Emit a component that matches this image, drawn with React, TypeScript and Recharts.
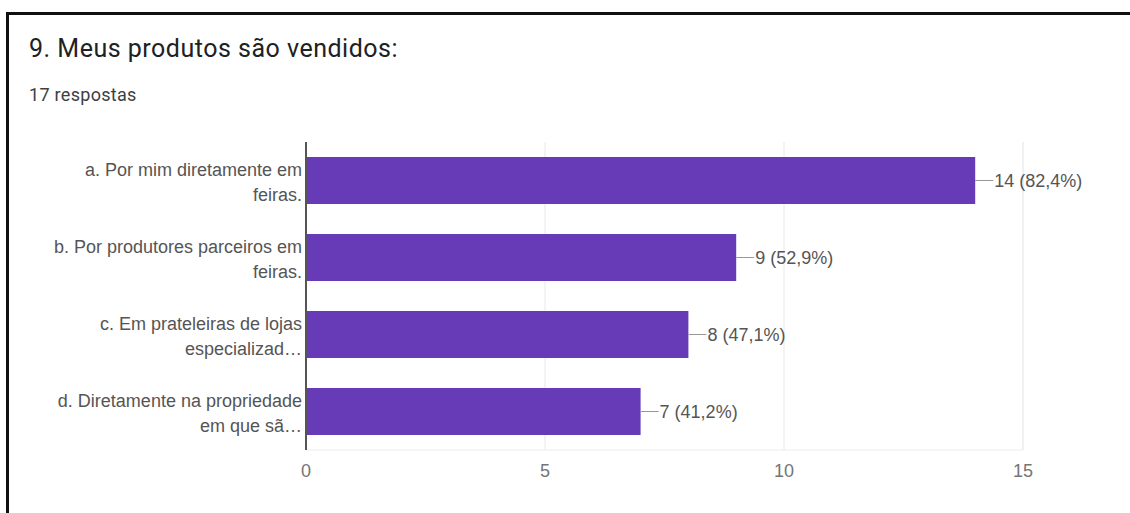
import React from "react";
import {
  BarChart,
  Bar,
  XAxis,
  YAxis,
  CartesianGrid,
  LabelList,
} from "recharts";

// answers (line breaks as shown in the chart)
const categories = [
  "a. Por mim diretamente em\nfeiras.",
  "b. Por produtores parceiros em\nfeiras.",
  "c. Em prateleiras de lojas\nespecializad…",
  "d. Diretamente na propriedade\nem que sã…",
];
const counts = [14, 9, 8, 7];
const percents = ["82,4%", "52,9%", "47,1%", "41,2%"];
const xTicks = [0, 5, 10, 15];
const xMinorTicks = [2.5, 7.5, 12.5];

const title = "9. Meus produtos são vendidos:";
const subtitle = "17 respostas";

const chartFont = '"Liberation Sans", Arial, sans-serif';
const purple = "#673ab7";

const data = categories.map((name, i) => ({
  name,
  value: counts[i],
  label: `${counts[i]} (${percents[i]})`,
}));

function CategoryTick(props: any) {
  const { x, y, payload } = props;
  const lines = String(payload.value).split("\n");
  return (
    <text
      x={x}
      y={y}
      textAnchor="end"
      fill="#555"
      fontSize={18}
      fontFamily={chartFont}
    >
      {lines.map((line, i) => (
        <tspan key={i} x={x} y={y - 5 + i * 25}>
          {line}
        </tspan>
      ))}
    </text>
  );
}

function ValueLabel(props: any) {
  const { x, y, width, height, value } = props;
  const endX = x + width;
  const cy = y + height / 2;
  return (
    <g>
      <line x1={endX} y1={cy} x2={endX + 18} y2={cy} stroke="#999" strokeWidth={1} />
      <text
        x={endX + 19}
        y={cy}
        dy="0.35em"
        fill="#555"
        fontSize={18}
        fontFamily={chartFont}
      >
        {value}
      </text>
    </g>
  );
}

export default function App() {
  return (
    <div
      style={{
        position: "fixed",
        left: 0,
        top: 0,
        width: 1130,
        height: 513,
        overflow: "hidden",
        background: "#fff",
      }}
    >
      <div
        style={{
          position: "absolute",
          left: 6,
          top: 12,
          width: 1300,
          height: 700,
          borderLeft: "3px solid #111",
          borderTop: "3px solid #111",
        }}
      />
      <div
        style={{
          position: "absolute",
          left: 29,
          top: 35,
          fontFamily: "Roboto, sans-serif",
          fontSize: 25,
          letterSpacing: 0.5,
          color: "#202124",
          lineHeight: "28px",
          whiteSpace: "nowrap",
        }}
      >
        {title}
      </div>
      <div
        style={{
          position: "absolute",
          left: 29,
          top: 85,
          fontFamily: "Roboto, sans-serif",
          fontSize: 18,
          letterSpacing: 0.3,
          color: "#3c4043",
          lineHeight: "20px",
          whiteSpace: "nowrap",
        }}
      >
        {subtitle}
      </div>
      <div style={{ position: "absolute", left: 0, top: 0 }}>
        <BarChart
          width={1130}
          height={513}
          data={data}
          layout="vertical"
          margin={{ top: 142, right: 107, bottom: 33, left: 0 }}
        >
          <CartesianGrid
            xAxisId="minor"
            horizontal={false}
            stroke="#f4f4f4"
          />
          <CartesianGrid horizontal={false} stroke="#e8e8e8" />
          <XAxis
            xAxisId="minor"
            type="number"
            domain={[0, 15]}
            ticks={xMinorTicks}
            hide
          />
          <XAxis
            type="number"
            domain={[0, 15]}
            ticks={xTicks}
            height={30}
            tickSize={0}
            tickMargin={14}
            axisLine={{ stroke: "#ececec" }}
            tickLine={false}
            tick={{ fill: "#757575", fontSize: 18, fontFamily: chartFont }}
          />
          <YAxis
            type="category"
            dataKey="name"
            width={306}
            tickSize={0}
            tickMargin={4}
            tickLine={false}
            axisLine={{ stroke: "#555", strokeWidth: 2 }}
            tick={<CategoryTick />}
            interval={0}
          />
          <Bar
            dataKey="value"
            fill={purple}
            barSize={47}
            isAnimationActive={false}
          >
            <LabelList dataKey="label" content={<ValueLabel />} />
          </Bar>
        </BarChart>
      </div>
    </div>
  );
}
